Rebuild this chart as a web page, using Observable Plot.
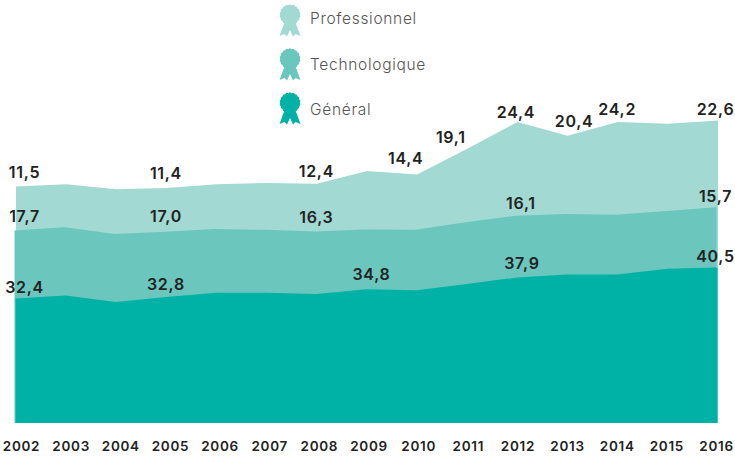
<!DOCTYPE html>
<html><head><meta charset="utf-8">
<style>html,body{margin:0;padding:0;background:#fff}svg{display:block}svg text{letter-spacing:.7px}</style>
<script src="https://cdn.jsdelivr.net/npm/d3@7"></script>
<script src="https://cdn.jsdelivr.net/npm/@observablehq/plot@0.6"></script>
</head><body><div id="c"></div>
<script>
const years=[2002,2003,2004,2005,2006,2007,2008,2009,2010,2011,2012,2013,2014,2015,2016];
const general=[32.4,33.2,31.5,32.8,33.9,33.9,33.6,34.8,34.6,36.2,37.9,38.7,38.7,40.2,40.5];
const technologique=[17.7,17.8,17.7,17.0,16.6,16.4,16.3,15.6,15.7,16.1,16.1,15.7,15.5,15.0,15.7];
const professionnel=[11.5,11.2,11.7,11.4,11.7,12.2,12.4,15.2,14.4,19.1,24.4,20.4,24.2,22.7,22.6];
const seriesNames=["Général","Technologique","Professionnel"];
const seriesValues=[general,technologique,professionnel];
const colors=["#00b2a5","#6bc6be","#a2d9d3"];

const cum=(k,i)=>d3.sum(seriesValues.slice(0,k+1),v=>v[i]);
const areaRows=k=>years.map((year,i)=>({year,top:cum(k,i)}));
const areaShift=[-0.5,-1.5,0];

// labelled points: [series index, year, horizontal nudge, vertical nudge]
const labelled=[
 [2,2002,8,-14],[2,2005,-1,-15],[2,2008,-1,-12],[2,2010,-12,-16],[2,2011,-17,-11],[2,2012,-2,-10],[2,2013,6,-14],[2,2014,-1,-13],[2,2016,-3,-11],
 [1,2002,8,-14],[1,2005,-1,-15],[1,2008,-1,-14],[1,2012,3,-12],[1,2016,-3,-11],
 [0,2002,8,-11],[0,2005,-1,-13],[0,2009,4,-15],[0,2012,4,-14],[0,2016,-3,-11]
];
const fmt=v=>v.toFixed(1).replace(".",",");
const labelFont={fontFamily:"Inter, sans-serif",fontSize:16,fontWeight:600,fill:"#222"};

const rosette={draw(ctx,size){
  const r=Math.sqrt(size/Math.PI), n=18, s=r/10;
  ctx.moveTo(-5*s,2*s);ctx.lineTo(5*s,2*s);ctx.lineTo(10.5*s,17*s);ctx.lineTo(5.5*s,15*s);ctx.lineTo(3*s,17.5*s);ctx.lineTo(0,11*s);ctx.lineTo(-3*s,17.5*s);ctx.lineTo(-5.5*s,15*s);ctx.lineTo(-10.5*s,17*s);ctx.closePath();
  for(let i=0;i<=n*2;i++){
    const a=i/(n*2)*2*Math.PI, q=i%2?r*1.06:r*0.98;
    const x=q*Math.cos(a), y=q*Math.sin(a)-r*0.42;
    i?ctx.lineTo(x,y):ctx.moveTo(x,y);
  }
  ctx.closePath();
}};
const legendOrder=[2,1,0];

const chart=Plot.plot({
  width:735,height:456,margin:0,
  x:{domain:[2002,2016],range:[16,718],axis:null},
  y:{domain:[0,110],range:[423,0.6],axis:null},
  marks:[
    ...[2,1,0].map(k=>Plot.areaY(areaRows(k),{x:"year",y1:0,y2:"top",fill:colors[k],dx:areaShift[k],curve:"linear"})),
    ...labelled.map(([k,year,dx,dy])=>{
      const i=years.indexOf(year);
      return Plot.text([{year,y:cum(k,i),t:fmt(seriesValues[k][i])}],{x:"year",y:"y",text:"t",dx,dy,textAnchor:"middle",...labelFont});
    }),
    ...years.map((year,i)=>Plot.text([year],{x:d=>d,frameAnchor:"bottom",dy:-6,dx:5-0.5*i,text:d=>String(d),lineAnchor:"bottom",textAnchor:"middle",fontFamily:"Inter, sans-serif",fontSize:13.5,fontWeight:600,fill:"#222"})),
    ...legendOrder.map((k,j)=>Plot.dot([seriesNames[k]],{frameAnchor:"top-left",dx:289.5,dy:18.5+44*j,r:10,symbol:rosette,fill:colors[k],stroke:"none"})),
    ...legendOrder.map((k,j)=>Plot.text([seriesNames[k]],{frameAnchor:"top-left",dx:309.5,dy:19+45.5*j,text:d=>d,textAnchor:"start",lineAnchor:"middle",fontFamily:"Inter, sans-serif",fontWeight:300,fontSize:15.5,fill:"#555"}))
  ]
});
document.getElementById("c").append(chart);
</script></body></html>
